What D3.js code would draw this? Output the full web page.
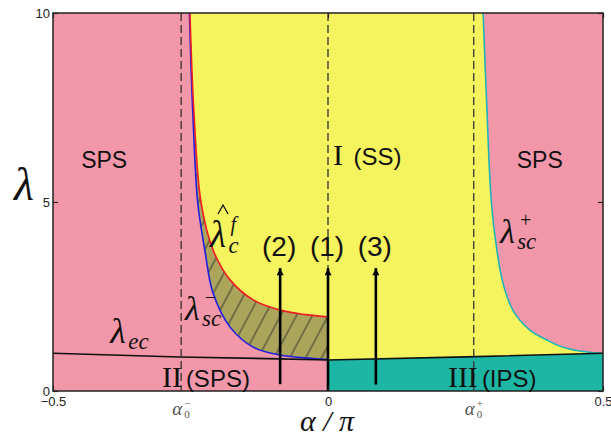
<!DOCTYPE html>
<html>
<head>
<meta charset="utf-8">
<script src="https://cdn.jsdelivr.net/npm/d3@7"></script>
<style>
body { margin: 0; background: #fff; }
svg text { font-family: "Liberation Sans", Arial, sans-serif; fill: #111; }
.serif { font-family: "Liberation Serif", "Times New Roman", serif; }
.math { font-family: "Liberation Serif", "Times New Roman", serif; font-style: italic; }
.tick text { font-size: 13px; fill: #222; }
</style>
</head>
<body>
<div id="chart"></div>
<script>
// axis ticks
var xTicks = [-0.5, 0, 0.5];
var yTicks = [0, 5, 10];
var alpha0 = [-0.267, 0.265];

// phase boundaries, [alpha/pi, lambda]
var redCurve = [[-0.251, 10], [-0.244, 7.43], [-0.231, 5.0], [-0.209, 3.73], [-0.178, 2.94],
  [-0.136, 2.41], [-0.087, 2.14], [-0.04, 2.02], [0, 1.96]];
var blueCurve = [[-0.252, 10], [-0.246, 7.43], [-0.237, 5.0], [-0.224, 3.73], [-0.209, 2.59],
  [-0.178, 1.69], [-0.136, 1.16], [-0.087, 0.95], [-0.038, 0.87], [0, 0.83]];
var cyanCurve = [[0.282, 10], [0.289, 7.43], [0.297, 5.0], [0.307, 3.73], [0.318, 2.86],
  [0.336, 2.14], [0.367, 1.61], [0.398, 1.35], [0.427, 1.16], [0.471, 1.03], [0.5, 1.0]];
var ecLine = [[-0.5, 1.0], [-0.27, 0.9], [-0.087, 0.85], [0, 0.82], [0.27, 0.91], [0.5, 1.0]];

// arrows: alpha, start lambda, end lambda
var arrows = [
  {label: "(2)", a: -0.087, from: 0.18, to: 3.25},
  {label: "(1)", a: 0, from: 0, to: 3.25},
  {label: "(3)", a: 0.087, from: 0.17, to: 3.25}
];

var margin = {top: 13, right: 8, bottom: 46, left: 53};
var width = 550;
var height = 378;

var svg = d3.select("#chart")
  .append("svg")
  .attr("width", 611)
  .attr("height", 437);

var defs = svg.append("defs");

defs.append("clipPath")
  .attr("id", "plotClip")
  .append("rect")
  .attr("width", width)
  .attr("height", height);

var hatch = defs.append("pattern")
  .attr("id", "hatch")
  .attr("patternUnits", "userSpaceOnUse")
  .attr("width", 14)
  .attr("height", 14)
  .attr("patternTransform", "rotate(28)");
hatch.append("line")
  .attr("x1", 7).attr("y1", 0)
  .attr("x2", 7).attr("y2", 14)
  .attr("stroke", "#2a2a2a")
  .attr("stroke-width", 0.9);

defs.append("marker")
  .attr("id", "head")
  .attr("markerUnits", "userSpaceOnUse")
  .attr("viewBox", "0 0 10 10")
  .attr("refX", 10)
  .attr("refY", 5)
  .attr("markerWidth", 12)
  .attr("markerHeight", 7)
  .attr("orient", "auto")
  .append("path")
  .attr("d", "M0,0L10,5L0,10Z")
  .attr("fill", "#000");

var g = svg.append("g")
  .attr("transform", "translate(" + margin.left + "," + margin.top + ")");

var x = d3.scaleLinear().domain([-0.5, 0.5]).range([0, width]);
var y = d3.scaleLinear().domain([0, 10]).range([height, 0]);

var curve = d3.line()
  .x(function(d){ return x(d[0]); })
  .y(function(d){ return y(d[1]); })
  .curve(d3.curveCatmullRom.alpha(0.5));

var straight = d3.line()
  .x(function(d){ return x(d[0]); })
  .y(function(d){ return y(d[1]); });

function cont(p){ return p.replace(/^M/, "L"); }
function rev(a){ return a.slice().reverse(); }

var ecRight = ecLine.filter(function(d){ return d[0] >= 0; });
var ec0 = ecRight[0];
var redEnd = redCurve[redCurve.length - 1];

var plot = g.append("g").attr("clip-path", "url(#plotClip)");

// backgrounds
plot.append("rect")
  .attr("width", width)
  .attr("height", height)
  .attr("fill", "#F297A9");

plot.append("path")
  .attr("d", curve(redCurve) + cont(straight([ec0])) + cont(straight(ecRight)) +
    cont(curve(rev(cyanCurve))) + "Z")
  .attr("fill", "#F5F35E");

var olivePath = curve(blueCurve) + cont(straight([ec0, redEnd])) + cont(curve(rev(redCurve))) + "Z";
plot.append("path")
  .attr("d", olivePath)
  .attr("fill", "#ABA55C");
plot.append("path")
  .attr("d", olivePath)
  .attr("fill", "url(#hatch)");

plot.append("path")
  .attr("d", straight(ecRight) + cont(straight([[0.5, 0], [0, 0]])) + "Z")
  .attr("fill", "#1DB5A4");

// boundary lines
plot.append("path")
  .attr("d", curve(blueCurve))
  .attr("fill", "none")
  .attr("stroke", "#1E1EE0")
  .attr("stroke-width", 1.6);

plot.append("path")
  .attr("d", curve(redCurve))
  .attr("fill", "none")
  .attr("stroke", "#EE1C24")
  .attr("stroke-width", 1.6);

plot.append("path")
  .attr("d", curve(cyanCurve))
  .attr("fill", "none")
  .attr("stroke", "#1FB3B8")
  .attr("stroke-width", 1.6);

plot.append("path")
  .attr("d", straight(ecLine))
  .attr("fill", "none")
  .attr("stroke", "#111")
  .attr("stroke-width", 1.6);

// dashed verticals
plot.selectAll(".dash")
  .data([alpha0[0], 0, alpha0[1]])
  .enter()
  .append("line")
  .attr("class", "dash")
  .attr("x1", function(d){ return x(d); })
  .attr("x2", function(d){ return x(d); })
  .attr("y1", 0)
  .attr("y2", height)
  .attr("stroke", "#333")
  .attr("stroke-width", 1.3)
  .attr("stroke-dasharray", "8,4");

// arrows
plot.selectAll(".arrow")
  .data(arrows)
  .enter()
  .append("line")
  .attr("class", "arrow")
  .attr("x1", function(d){ return x(d.a); })
  .attr("x2", function(d){ return x(d.a); })
  .attr("y1", function(d){ return y(d.from); })
  .attr("y2", function(d){ return y(d.to); })
  .attr("stroke", "#000")
  .attr("stroke-width", 2.6)
  .attr("marker-end", "url(#head)");

g.selectAll(".arrowLabel")
  .data(arrows)
  .enter()
  .append("text")
  .attr("class", "arrowLabel")
  .attr("x", function(d){ return x(d.a) - 1; })
  .attr("y", y(3.57))
  .attr("text-anchor", "middle")
  .style("font-size", "28px")
  .text(function(d){ return d.label; });

// frame and axes
g.append("rect")
  .attr("width", width)
  .attr("height", height)
  .attr("fill", "none")
  .attr("stroke", "#222")
  .attr("stroke-width", 1.5);

var xAxis = g.append("g")
  .attr("transform", "translate(0," + height + ")")
  .call(d3.axisBottom(x).tickValues(xTicks).tickSize(-5).tickPadding(6)
    .tickFormat(function(d){ return d === 0 ? "0" : d3.format(".1f")(d); }));
g.append("g")
  .call(d3.axisTop(x).tickValues(xTicks).tickSize(-5).tickFormat(""));
var yAxis = g.append("g")
  .call(d3.axisLeft(y).tickValues(yTicks).tickSize(-5).tickPadding(3));
g.append("g")
  .attr("transform", "translate(" + width + ",0)")
  .call(d3.axisRight(y).tickValues(yTicks).tickSize(-5).tickFormat(""));
g.selectAll(".domain").remove();
g.selectAll(".tick line").attr("stroke", "#222").attr("stroke-width", 1.2);

// alpha_0 tick labels
var a0 = g.selectAll(".a0")
  .data([{a: alpha0[0], s: "\u2212"}, {a: alpha0[1], s: "+"}])
  .enter()
  .append("g")
  .attr("class", "a0")
  .attr("transform", function(d){ return "translate(" + x(d.a) + "," + (height + 24) + ")"; });
a0.append("text")
  .attr("class", "math")
  .attr("x", -9)
  .style("font-size", "19px")
  .style("fill", "#555")
  .text("\u03b1");
a0.append("text")
  .attr("class", "serif")
  .attr("x", 3)
  .attr("y", 3)
  .style("font-size", "11px")
  .style("fill", "#555")
  .text("0");
a0.append("text")
  .attr("class", "serif")
  .attr("x", 3)
  .attr("y", -8)
  .style("font-size", "11px")
  .style("fill", "#555")
  .text(function(d){ return d.s; });

// axis titles
svg.append("text")
  .attr("class", "math")
  .attr("x", 24)
  .attr("y", 200)
  .attr("text-anchor", "middle")
  .style("font-size", "46px")
  .text("\u03bb");

svg.append("text")
  .attr("class", "math")
  .attr("x", 327)
  .attr("y", 431)
  .attr("text-anchor", "middle")
  .style("font-size", "30px")
  .text("\u03b1 / \u03c0");

// region labels
g.append("text")
  .attr("x", x(-0.407)).attr("y", y(5.9))
  .attr("text-anchor", "middle")
  .style("font-size", "23px")
  .text("SPS");
g.append("text")
  .attr("x", x(0.385)).attr("y", y(5.9))
  .attr("text-anchor", "middle")
  .style("font-size", "23px")
  .text("SPS");

function roman(num, rest, a, l){
  var t = g.append("text").attr("x", x(a)).attr("y", y(l));
  t.append("tspan").attr("class", "serif").style("font-size", "30px").text(num);
  t.append("tspan").attr("dx", 4).style("font-size", "24px").text(rest);
}
roman("I", " (SS)", 0.009, 5.98);
roman("II", "(SPS)", -0.302, 0.11);
roman("III", "(IPS)", 0.218, 0.11);

// curve labels
function lambda(a, l, size, sub, sup, hat){
  var px = x(a), py = y(l);
  g.append("text").attr("class", "math")
    .attr("x", px).attr("y", py)
    .style("font-size", size + "px")
    .text("\u03bb");
  if (hat) {
    g.append("path")
      .attr("d", "M" + (px + 8) + "," + (py - 33) + "l5,-9l5,9")
      .attr("fill", "none")
      .attr("stroke", "#111")
      .attr("stroke-width", 1.3);
  }
  g.append("text").attr("class", "math")
    .attr("x", px + size * 0.5).attr("y", py + 6)
    .style("font-size", "23px")
    .text(sub);
  if (sup) {
    g.append("text").attr("class", "math")
      .attr("x", px + size * 0.55).attr("y", py - 16)
      .style("font-size", "20px")
      .text(sup);
  }
}
lambda(-0.2145, 3.81, 37, "c", "f", true);
lambda(-0.26, 1.88, 34, "sc", "\u2212");
lambda(-0.396, 1.27, 36, "ec");
lambda(0.313, 3.92, 34, "sc", "+");
</script>
</body>
</html>
